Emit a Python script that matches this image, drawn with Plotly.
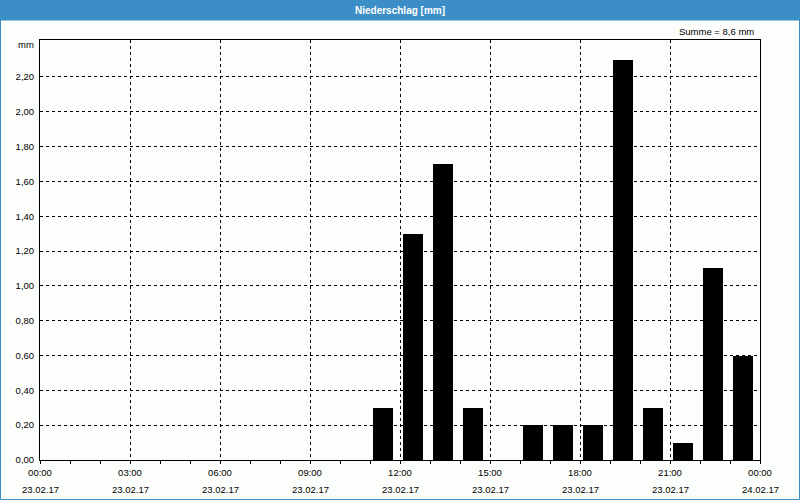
import plotly.graph_objects as go

# hourly precipitation, bar starts at given hour (23.02.17)
hours = list(range(24))
values = [0, 0, 0, 0, 0, 0, 0, 0, 0, 0, 0, 0.3,
          1.3, 1.7, 0.3, 0, 0.2, 0.2, 0.2, 2.3, 0.3, 0.1, 1.1, 0.6]
tick_hours = [0, 3, 6, 9, 12, 15, 18, 21, 24]
tick_times = ["00:00", "03:00", "06:00", "09:00", "12:00", "15:00", "18:00", "21:00", "00:00"]
tick_dates = ["23.02.17"] * 8 + ["24.02.17"]
y_ticks = [0, 0.2, 0.4, 0.6, 0.8, 1.0, 1.2, 1.4, 1.6, 1.8, 2.0, 2.2]
title = "Niederschlag [mm]"
summe = "Summe = 8,6 mm"

FONT = "Liberation Sans"
W, H = 800, 500
L, R, T, B = 40, 40, 40, 40
pw, ph = W - L - R, H - T - B


def px(x):
    return (x - L) / pw


def py(y):
    return 1 - (y - T) / ph


fig = go.Figure()
fig.add_trace(go.Bar(
    x=[h for h, v in zip(hours, values) if v > 0],
    y=[v for v in values if v > 0],
    offset=0.1, width=0.68,
    marker=dict(color="#000000", line=dict(width=0)),
    hoverinfo="skip",
))

annotations = [
    dict(text=f"<b>{title}</b>", xref="paper", yref="paper",
         x=px(400), y=py(10), xanchor="center", yanchor="middle",
         showarrow=False, font=dict(color="#FFFFFF", size=10, family=FONT)),
    dict(text=summe, xref="paper", yref="paper",
         x=px(756), y=py(31), xanchor="right", yanchor="middle",
         showarrow=False, font=dict(size=9.5, family=FONT)),
    dict(text="mm", xref="paper", yref="paper",
         x=px(36), y=py(45), xanchor="right", yanchor="middle",
         showarrow=False, font=dict(size=9.5, family=FONT)),
]
for h, d in zip(tick_hours, tick_dates):
    annotations.append(dict(text=d, xref="x", yref="paper", x=h, y=py(489.5),
                            xanchor="center", yanchor="middle", showarrow=False,
                            font=dict(size=9.5, family=FONT)))

fig.update_layout(
    width=W, height=H,
    margin=dict(l=L, r=R, t=T, b=B),
    paper_bgcolor="#FCFEFC", plot_bgcolor="#FCFEFC",
    separators=",.",
    showlegend=False,
    font=dict(family=FONT, size=9.5, color="#000000"),
    bargap=0,
    xaxis=dict(
        range=[0, 24], tickmode="array", tickvals=tick_hours, ticktext=tick_times,
        showgrid=True, gridcolor="#000000", gridwidth=1, griddash="3px,3px",
        showline=True, linecolor="#000000", linewidth=1, mirror=True,
        ticks="outside", ticklen=3, tickcolor="#000000", ticklabelstandoff=1,
        minor=dict(dtick=1, tick0=0, ticks="outside", ticklen=3, tickcolor="#000000", showgrid=False),
        zeroline=False, fixedrange=True,
    ),
    yaxis=dict(
        range=[0, 2.412], tickmode="array", tickvals=y_ticks, tickformat=".2f",
        showgrid=True, gridcolor="#000000", gridwidth=1, griddash="3px,3px",
        showline=True, linecolor="#000000", linewidth=1, mirror=True,
        ticks="", ticklabelstandoff=3,
        zeroline=False, fixedrange=True,
    ),
    shapes=[
        dict(type="rect", xref="paper", yref="paper",
             x0=px(0), x1=px(W), y0=py(0), y1=py(20),
             fillcolor="#3C8FC6", line=dict(width=0), layer="below"),
        dict(type="rect", xref="paper", yref="paper",
             x0=px(0.5), x1=px(W - 0.5), y0=py(20), y1=py(H - 0.5),
             fillcolor="rgba(0,0,0,0)", line=dict(color="#3C8FC6", width=1)),
    ],
    annotations=annotations,
)

fig.write_html("out.html")
